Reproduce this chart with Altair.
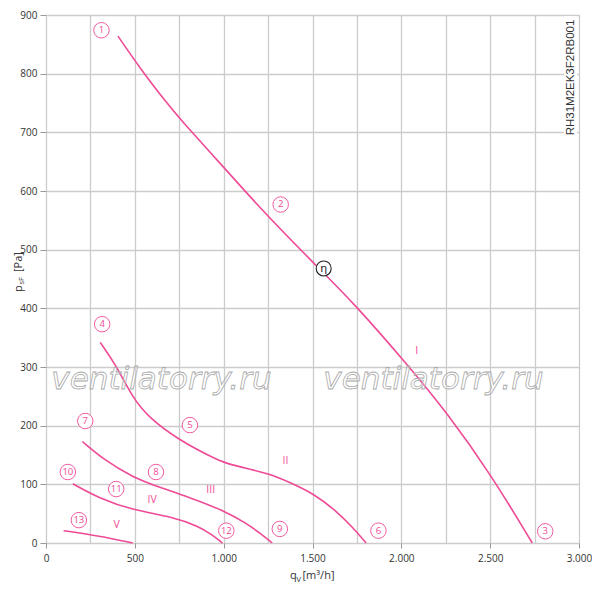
import altair as alt
import pandas as pd

PINK = "#ee4a96"
GRID = "#cccccc"
FONT = "Open Sans"

# ---- curve data (q_V [m3/h], p_sF [Pa]) ----
curve_I_x = [405, 544, 675, 750, 1002, 1198, 1506, 1730, 2037, 2252, 2504, 2737]
curve_I_y = [864, 803, 752, 724, 640, 573, 477, 410, 303, 224, 117, 0]
curve_II_x = [305, 395, 488, 581, 750, 955, 1002, 1142, 1254, 1367, 1507, 1628, 1722, 1802]
curve_II_y = [342, 303, 247, 213, 175, 143, 137, 126, 118, 104, 84, 56, 28, 0]
curve_III_x = [204, 320, 488, 638, 806, 1011, 1124, 1200, 1273]
curve_III_y = [173, 143, 112, 95, 78, 54, 34, 18, 0]
curve_IV_x = [151, 301, 488, 712, 862, 930, 993]
curve_IV_y = [101, 76, 56, 45, 28, 15, 0]
curve_V_x = [99, 301, 488]
curve_V_y = [21, 12, 0]

# circled point labels
pt_labels = ["1", "2", "3", "4", "5", "6", "7", "8", "9", "10", "11", "12", "13"]
pt_x = [312, 1321, 2810, 316, 810, 1871, 221, 619, 1316, 123, 395, 1015, 185]
pt_y = [874, 577, 20, 373, 201, 21, 208, 121, 24, 121, 92, 21, 39]

# efficiency marker
eta_x = [1563]
eta_y = [468]

# roman numerals
rom_labels = ["I", "II", "III", "IV", "V"]
rom_x = [2086, 1348, 927, 597, 398]
rom_y = [327, 139, 91, 73, 30]

# watermark
wm_text = ["ventilatorry.ru", "ventilatorry.ru"]
wm_x = [650, 2181]
wm_y = [263, 263]

x_grid = list(range(0, 3001, 250))
y_grid = list(range(0, 901, 50))

rows = []
for name, xs, ys in [("I", curve_I_x, curve_I_y), ("II", curve_II_x, curve_II_y),
                     ("III", curve_III_x, curve_III_y), ("IV", curve_IV_x, curve_IV_y),
                     ("V", curve_V_x, curve_V_y)]:
    for i, (a, b) in enumerate(zip(xs, ys)):
        rows.append({"curve": name, "q": a, "p": b, "o": i})
curves = pd.DataFrame(rows)
pts = pd.DataFrame({"lab": pt_labels, "q": pt_x, "p": pt_y})
eta = pd.DataFrame({"lab": ["η"], "q": eta_x, "p": eta_y})
rom = pd.DataFrame({"lab": rom_labels, "q": rom_x, "p": rom_y})
wm = pd.DataFrame({"lab": wm_text, "q": wm_x, "p": wm_y})

xscale = alt.Scale(domain=[0, 3000], nice=False, zero=False)
yscale = alt.Scale(domain=[0, 900], nice=False, zero=False)

xaxis = alt.Axis(
    values=x_grid, title=None, domain=False, grid=True, gridColor=GRID, gridWidth=1.3,
    tickColor="#999999", tickSize=5, tickWidth=1,
    tickOpacity={"condition": {"test": "datum.value % 500 === 0", "value": 1}, "value": 0},
    labelExpr="datum.value % 500 === 0 ? replace(format(datum.value, ','), ',', '.') : ''",
    labelFont=FONT, labelFontSize=10, labelColor="#333333", labelPadding=5,
    labelFlush=False, labelOverlap=False,
)
yaxis = alt.Axis(
    values=y_grid, title=None, domain=False, grid=True, gridColor=GRID, gridWidth=1.3,
    tickColor="#999999", tickSize=6, tickWidth=1,
    tickOpacity={"condition": {"test": "datum.value % 100 === 0", "value": 1}, "value": 0},
    labelExpr="datum.value % 100 === 0 ? datum.label : ''",
    labelFont=FONT, labelFontSize=10, labelColor="#333333", labelPadding=3,
    labelOverlap=False,
)

X = alt.X("q:Q", scale=xscale, axis=xaxis)
Y = alt.Y("p:Q", scale=yscale, axis=yaxis)

wm_layer = alt.Chart(wm).mark_text(
    font="DejaVu Sans", fontSize=31, fontStyle="italic", align="center", baseline="alphabetic",
    fill="#ffffff", fillOpacity=0.25, stroke="#a9a9a9", strokeWidth=0.8,
).encode(x="q:Q", y="p:Q", text="lab:N")

lines = alt.Chart(curves).mark_line(color=PINK, strokeWidth=1.6, interpolate="basis").encode(
    x=X, y=Y, detail="curve:N", order="o:Q"
)

circles = alt.Chart(pts).mark_point(
    shape="circle", size=240, filled=True, fill="white", stroke=PINK, strokeWidth=0.9, opacity=1
).encode(x="q:Q", y="p:Q")
circ_txt = alt.Chart(pts).mark_text(
    font=FONT, fontSize=9.5, color=PINK, align="center", baseline="middle"
).encode(x="q:Q", y="p:Q", text="lab:N")

eta_c = alt.Chart(eta).mark_point(
    shape="circle", size=225, filled=True, fill="white", stroke="#222222", strokeWidth=1.1, opacity=1
).encode(x="q:Q", y="p:Q")
eta_t = alt.Chart(eta).mark_text(
    font="DejaVu Sans", fontSize=11, color="#222222", align="center", baseline="middle", dy=1
).encode(x="q:Q", y="p:Q", text="lab:N")

rom_t = alt.Chart(rom).mark_text(
    font=FONT, fontSize=10.5, color=PINK, align="center", baseline="middle"
).encode(x="q:Q", y="p:Q", text="lab:N")

# white box behind model code
box = alt.Chart(pts).mark_rect(color="white").encode(
    x=alt.value(518), x2=alt.value(531), y=alt.value(1), y2=alt.value(124)
)
code_t = alt.Chart(pd.DataFrame({"t": ["RH31M2EK3F2RB001"]})).mark_text(
    font="Liberation Sans", fontSize=11.5, color="#333333", angle=270,
    align="center", baseline="alphabetic"
).encode(x=alt.value(528), y=alt.value(62.5), text="t:N")

# axis titles with subscripts
def txt(s, x, y, size, angle=0, color="#333333"):
    kw = dict(font=FONT, fontSize=size, color=color, align="left", baseline="alphabetic")
    if angle:
        kw["angle"] = angle
    return alt.Chart(pd.DataFrame({"t": [s]})).mark_text(**kw).encode(
        x=alt.value(x), y=alt.value(y), text="t:N"
    )

titles = [
    txt("q", 244, 564, 11),
    txt("V", 250.5, 566.5, 7.5),
    txt("[m³/h]", 256.5, 564, 11),
    txt("p", -24, 277, 11, 270),
    txt("sF", -22, 269.5, 7.5, 270),
    txt("[Pa]", -24, 257, 11, 270),
]

chart = alt.layer(
    lines, wm_layer, box, code_t, circles, circ_txt, eta_c, eta_t, rom_t, *titles
).properties(
    width=533, height=528,
    padding={"left": 38, "top": 7, "right": 13, "bottom": 41},
    autosize=alt.AutoSizeParams(type="none"),
).configure_view(stroke=None).configure(background="white")

chart.save("out.html", embed_options={"renderer": "svg", "actions": False})
